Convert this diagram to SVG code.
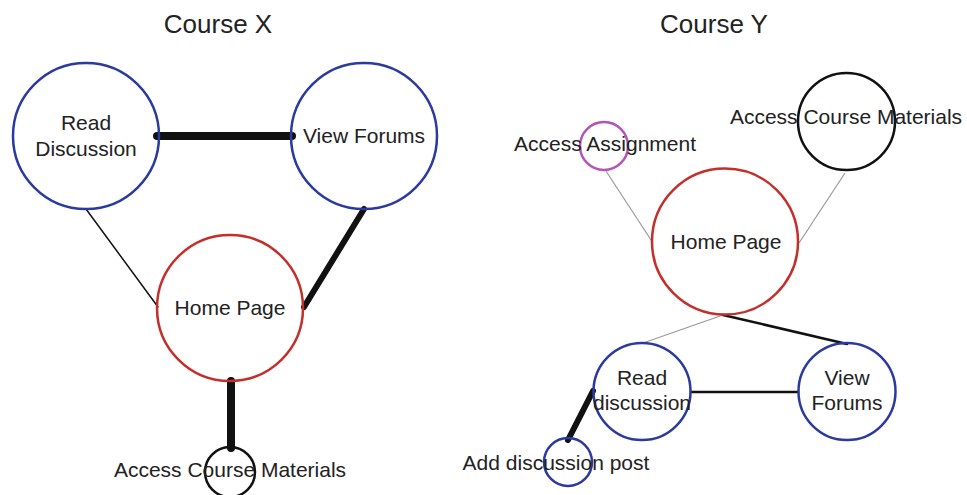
<svg xmlns="http://www.w3.org/2000/svg" width="967" height="495" viewBox="0 0 967 495">
<style>
text{font-family:"Liberation Sans",Arial,sans-serif;font-size:21px;fill:#222;text-anchor:middle}
.title{font-size:26px}
circle{fill:none;stroke-width:2.5}
.blue{stroke:#2b3a9e}
.red{stroke:#c3302b}
.black{stroke:#111}
.purple{stroke:#b355b8}
.e{stroke:#111;stroke-linecap:round;fill:none}
.g{stroke:#999;fill:none;stroke-width:1.2}
</style>
<rect width="967" height="495" fill="#fff"/>
<text class="title" x="218" y="33">Course X</text>
<text class="title" x="714" y="33">Course Y</text>
<g id="connectors">
<line class="e" x1="157" y1="136" x2="292" y2="136" stroke-width="8"/>
<line class="e" x1="86" y1="209" x2="158" y2="307" stroke-width="1.5"/>
<line class="e" x1="364" y1="209" x2="304" y2="307" stroke-width="6"/>
<line class="e" x1="231" y1="381" x2="231" y2="448" stroke-width="8"/>
<line class="g" x1="606" y1="171" x2="653" y2="243"/>
<line class="g" x1="845" y1="173" x2="799" y2="243"/>
<line class="g" x1="723" y1="315" x2="643" y2="343"/>
<line class="e" x1="723" y1="315" x2="847" y2="344" stroke-width="2.5"/>
<line class="e" x1="691" y1="392" x2="798" y2="392" stroke-width="2.5"/>
<line class="e" x1="593" y1="391" x2="568" y2="440" stroke-width="6"/>
</g>
<g id="x-read-discussion">
<circle class="blue" cx="86" cy="136" r="73"/>
<text x="86" y="130">Read</text>
<text x="86" y="156">Discussion</text>
</g>
<g id="x-view-forums">
<circle class="blue" cx="364" cy="136" r="73"/>
<text x="364" y="143">View Forums</text>
</g>
<g id="x-home-page">
<circle class="red" cx="230" cy="308" r="73"/>
<text x="230" y="315">Home Page</text>
</g>
<g id="x-access-course-materials">
<circle class="black" cx="230" cy="472" r="25"/>
<text x="230" y="477">Access Course Materials</text>
</g>
<g id="y-access-assignment">
<circle class="purple" cx="604" cy="146" r="24"/>
<text x="605" y="151">Access Assignment</text>
</g>
<g id="y-access-course-materials">
<circle class="black" cx="846.5" cy="121.5" r="48.5"/>
<text x="846" y="124">Access Course Materials</text>
</g>
<g id="y-home-page">
<circle class="red" cx="725" cy="241.5" r="73"/>
<text x="726" y="249">Home Page</text>
</g>
<g id="y-read-discussion">
<circle class="blue" cx="642" cy="391.5" r="48.5"/>
<text x="642" y="385">Read</text>
<text x="642" y="410">discussion</text>
</g>
<g id="y-view-forums">
<circle class="blue" cx="847" cy="391.5" r="48.5"/>
<text x="847" y="385">View</text>
<text x="847" y="410">Forums</text>
</g>
<g id="y-add-discussion-post">
<circle class="blue" cx="568" cy="462" r="24"/>
<text x="556" y="470">Add discussion post</text>
</g>
</svg>
